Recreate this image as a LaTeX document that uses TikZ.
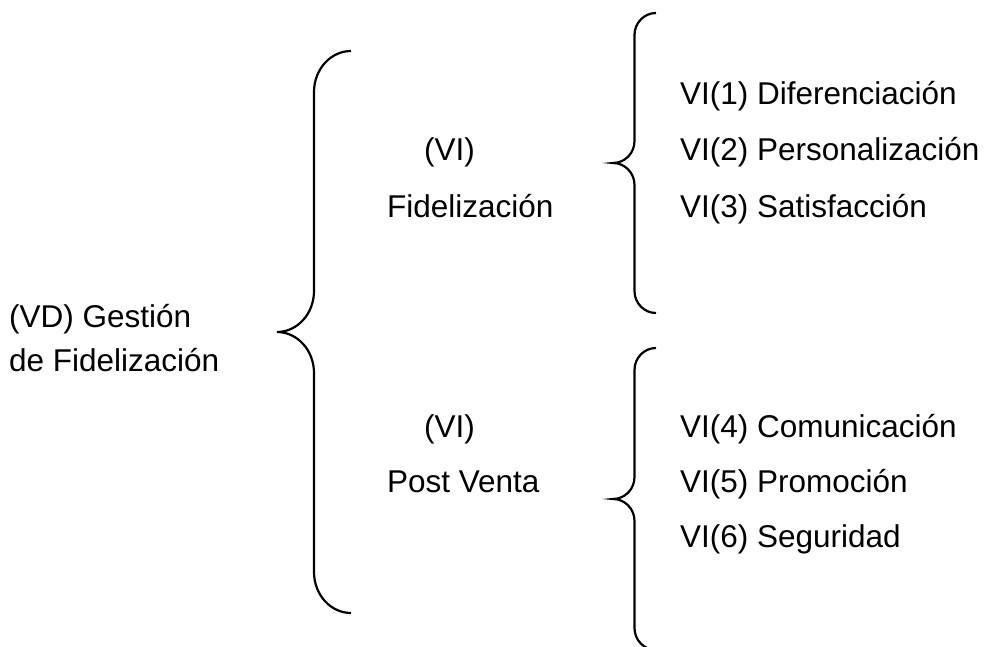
\documentclass[tikz,border=0pt]{standalone}
\usepackage{fontspec}
\setmainfont{Liberation Sans}
% brace: tip x, tip y, half height, half width, curve height
\newcommand{\llave}[5]{%
	\draw ({#1+2*#4},{#2-#3}) .. controls ({#1+1.448*#4},{#2-#3}) and ({#1+#4},{#2-#3+0.448*#5}) .. ({#1+#4},{#2-#3+#5})
		-- ({#1+#4},{#2-#5}) .. controls ({#1+#4},{#2-0.448*#5}) and ({#1+0.552*#4},{#2}) .. (#1,#2)
		.. controls ({#1+0.552*#4},{#2}) and ({#1+#4},{#2+0.448*#5}) .. ({#1+#4},{#2+#5})
		-- ({#1+#4},{#2+#3-#5}) .. controls ({#1+#4},{#2+#3-0.448*#5}) and ({#1+1.448*#4},{#2+#3}) .. ({#1+2*#4},{#2+#3});}

\begin{document}
\begin{tikzpicture}[x=1pt,y=-1pt,line width=2.2pt,
	texto/.style={anchor=base west,inner sep=0pt,font=\fontsize{31.5}{38}\selectfont}]
	\useasboundingbox (0,0) rectangle (986,646);
	\node[texto] (vd1) at (8,327) {(VD) Gestión};
	\node[texto] (vd2) at (8,371) {de Fidelización};
	%
	\node[texto] (vi1a) at (423,160) {(VI)};
	\node[texto] (vi1b) at (386,217) {Fidelización};
	\node[texto] (vi2a) at (423,437) {(VI)};
	\node[texto] (vi2b) at (386,492) {Post Venta};
	%
	\node[texto] (d1) at (679,104) {VI(1) Diferenciación};
	\node[texto] (d2) at (679,160) {VI(2) Personalización};
	\node[texto] (d3) at (679,217) {VI(3) Satisfacción};
	\node[texto] (d4) at (679,437) {VI(4) Comunicación};
	\node[texto] (d5) at (679,492) {VI(5) Promoción};
	\node[texto] (d6) at (679,547) {VI(6) Seguridad};
	%
	\llave{277}{332}{281}{37}{41}
	\llave{613}{163}{150}{21.5}{22}
	\llave{613}{499}{151}{21.5}{22}
\end{tikzpicture}
\end{document}
